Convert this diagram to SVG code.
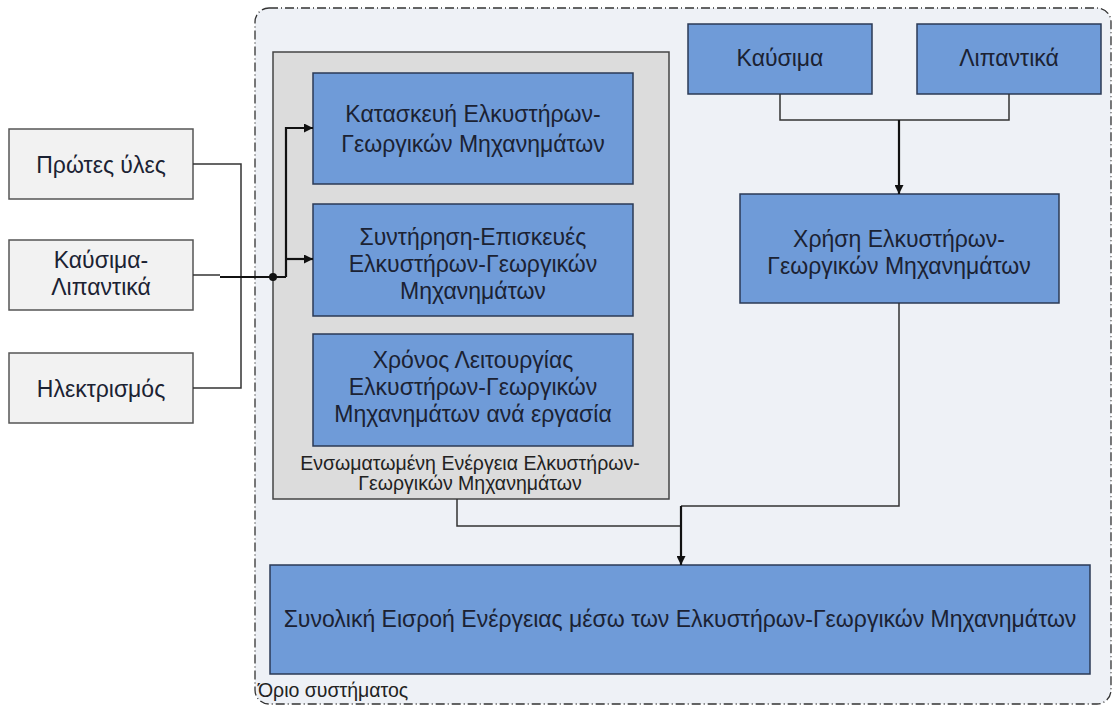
<svg xmlns="http://www.w3.org/2000/svg" width="1116" height="709" viewBox="0 0 1116 709">
<style>
  .t { font-family: "Liberation Sans", Arial, sans-serif; font-size: 23px; fill: #1b2233; text-anchor: middle; }
  .s { font-family: "Liberation Sans", Arial, sans-serif; font-size: 19.5px; fill: #222; text-anchor: middle; }
  .blue { fill: #6f9bd8; stroke: #2b3a55; stroke-width: 1.5; }
  .grey { fill: #f2f2f2; stroke: #555; stroke-width: 1.5; }
  .cont { fill: #dcdcdc; stroke: #444; stroke-width: 1.5; }
  .ln { fill: none; stroke: #333; stroke-width: 1.5; }
  .bold { fill: none; stroke: #111; stroke-width: 2.2; }
</style>
<defs>
  <marker id="arr" viewBox="0 0 10 10" refX="10" refY="5" markerWidth="9" markerHeight="9" markerUnits="userSpaceOnUse" orient="auto">
    <path d="M0,0 L10,5 L0,10 z" fill="#111"/>
  </marker>
</defs>
<rect width="1116" height="709" fill="#ffffff"/>
<g id="boundary">
  <rect x="255" y="8" width="856" height="696" rx="14" fill="#eef1f6" stroke="#333" stroke-width="1.3" stroke-dasharray="9,3,1,3"/>
  <text x="258" y="697" class="s" style="text-anchor:start">Όριο συστήματος</text>
</g>
<g id="container">
  <rect x="273" y="52" width="396" height="447" class="cont"/>
  <text class="s" x="470" y="470">Ενσωματωμένη Ενέργεια Ελκυστήρων-</text>
  <text class="s" x="470" y="490">Γεωργικών Μηχανημάτων</text>
</g>
<g id="n-protes">
  <rect x="9" y="129" width="184" height="70" class="grey"/>
  <text class="t" x="101" y="173">Πρώτες ύλες</text>
</g>
<g id="n-kaysima-lip">
  <rect x="9" y="240" width="184" height="70" class="grey"/>
  <text class="t" x="101" y="268">Καύσιμα-</text>
  <text class="t" x="101" y="295">Λιπαντικά</text>
</g>
<g id="n-ilektrismos">
  <rect x="9" y="353" width="184" height="70" class="grey"/>
  <text class="t" x="101" y="397">Ηλεκτρισμός</text>
</g>
<g id="n-kataskevi">
  <rect x="313" y="73" width="320" height="111" class="blue"/>
  <text class="t" x="473" y="122">Κατασκευή Ελκυστήρων-</text>
  <text class="t" x="473" y="152">Γεωργικών Μηχανημάτων</text>
</g>
<g id="n-syntirisi">
  <rect x="313" y="204" width="320" height="112" class="blue"/>
  <text class="t" x="473" y="245">Συντήρηση-Επισκευές</text>
  <text class="t" x="473" y="272">Ελκυστήρων-Γεωργικών</text>
  <text class="t" x="473" y="299">Μηχανημάτων</text>
</g>
<g id="n-xronos">
  <rect x="313" y="334" width="320" height="112" class="blue"/>
  <text class="t" x="473" y="368">Χρόνος Λειτουργίας</text>
  <text class="t" x="473" y="395">Ελκυστήρων-Γεωργικών</text>
  <text class="t" x="473" y="422">Μηχανημάτων ανά εργασία</text>
</g>
<g id="n-kaysima">
  <rect x="688" y="24" width="184" height="70" class="blue"/>
  <text class="t" x="780" y="66">Καύσιμα</text>
</g>
<g id="n-lipantika">
  <rect x="917" y="24" width="184" height="70" class="blue"/>
  <text class="t" x="1009" y="66">Λιπαντικά</text>
</g>
<g id="n-xrisi">
  <rect x="740" y="194" width="319" height="109" class="blue"/>
  <text class="t" x="899" y="247">Χρήση Ελκυστήρων-</text>
  <text class="t" x="899" y="274">Γεωργικών Μηχανημάτων</text>
</g>
<g id="n-synoliki">
  <rect x="270" y="565" width="820" height="109" class="blue"/>
  <text class="t" x="680" y="627">Συνολική Εισροή Ενέργειας μέσω των Ελκυστήρων-Γεωργικών Μηχανημάτων</text>
</g>
<g id="connectors">
  <path class="ln" d="M193,164 H241 V277"/>
  <path class="ln" d="M193,388 H241 V277"/>
  <path class="ln" d="M193,275 H220"/>
  <path class="bold" d="M220,277 H286"/>
  <circle cx="273" cy="277" r="4" fill="#111"/>
  <path class="bold" d="M286,277 V128 H313" marker-end="url(#arr)"/>
  <path class="bold" d="M286,259 H313" marker-end="url(#arr)"/>
  <path class="ln" d="M780,94 V120 H1009 V94"/>
  <path class="bold" d="M899,120 V194" marker-end="url(#arr)"/>
  <path class="ln" d="M457,499 V526 H681"/>
  <path class="ln" d="M899,303 V506 H681"/>
  <path class="bold" d="M681,506 V565" marker-end="url(#arr)"/>
</g>
</svg>
